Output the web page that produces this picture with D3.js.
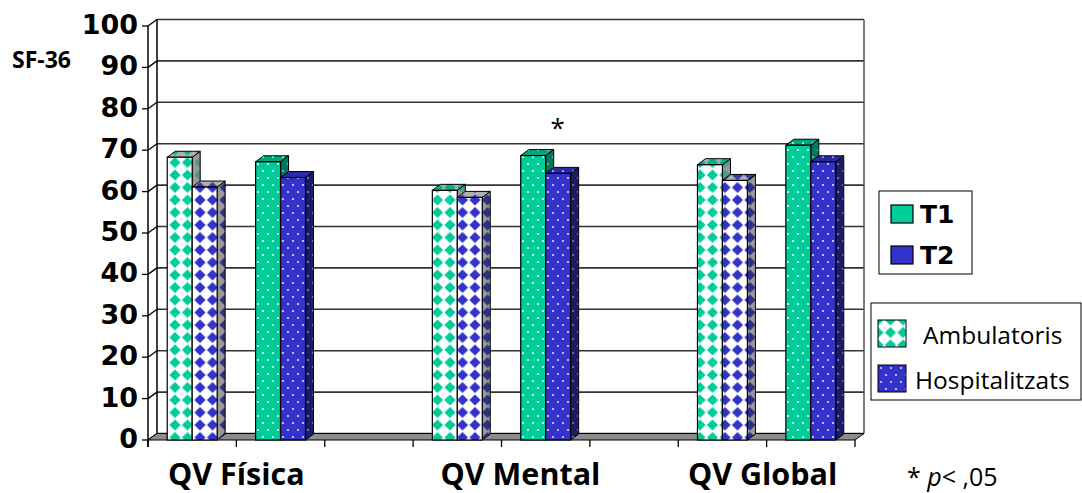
<!DOCTYPE html>
<html lang="ca">
<head>
<meta charset="UTF-8">
<title>SF-36 QV</title>
<script src="https://d3js.org/d3.v7.min.js"></script>
<style>
  body { margin: 0; background: #fff; }
  svg { display: block; }
</style>
</head>
<body>
<div id="chart"></div>
<script>
// dades llegides del gràfic
const groups = ["QV Física", "QV Mental", "QV Global"];
const ambT1 = [68.3, 60.3, 66.5];
const ambT2 = [61.1, 58.6, 62.7];
const hospT1 = [67.2, 68.7, 71.2];
const hospT2 = [63.4, 64.4, 67.2];
const yTicks = [0, 10, 20, 30, 40, 50, 60, 70, 80, 90, 100];
const timeNames = ["T1", "T2"];
const kindNames = ["Ambulatoris", "Hospitalitzats"];
const signif = ["", "*", ""];

var width = 1082, height = 493;
var dx = 8, dy = -6;          // bar depth
var wx = 9, wy = -6.5;        // wall depth

var svg = d3.select('#chart').append('svg')
    .attr('width', width)
    .attr('height', height);

// slots: Amb, Hosp, gap for each group
var slots = [];
groups.forEach(function(g, i) {
    slots.push(g + '|A', g + '|H');
    if (i < groups.length - 1) slots.push('gap' + i);
});

var x = d3.scaleBand().domain(slots).range([148, 855]);
var xs = d3.scaleBand().domain(timeNames).range([0, x.bandwidth()]).paddingInner(0).paddingOuter(0.77);
var y = d3.scaleLinear().domain([0, 100]).range([440, 26]);

// patterns
var defs = svg.append('defs');
function diamondPattern(id, bg, fg) {
    var s = 12.5, r = 5.6;
    var p = defs.append('pattern').attr('id', id)
        .attr('patternUnits', 'userSpaceOnUse').attr('width', s).attr('height', s);
    p.append('rect').attr('width', s).attr('height', s).attr('fill', bg);
    [[0, 0], [s, 0], [0, s], [s, s]].forEach(function(c) {
        p.append('path')
            .attr('d', 'M' + c[0] + ',' + (c[1] - r) + 'L' + (c[0] + r) + ',' + c[1] +
                'L' + c[0] + ',' + (c[1] + r) + 'L' + (c[0] - r) + ',' + c[1] + 'Z')
            .attr('fill', fg);
    });
}
function dotPattern(id, bg, dot) {
    var p = defs.append('pattern').attr('id', id)
        .attr('patternUnits', 'userSpaceOnUse').attr('width', 10).attr('height', 14);
    p.append('rect').attr('width', 10).attr('height', 14).attr('fill', bg);
    p.append('circle').attr('cx', 3).attr('cy', 3).attr('r', 1.1).attr('fill', dot);
    p.append('circle').attr('cx', 8).attr('cy', 10).attr('r', 1.1).attr('fill', dot);
}
diamondPattern('ambT1', '#ffffff', '#00cc99');
diamondPattern('ambT2', '#ffffff', '#3333cc');
diamondPattern('ambT1side', '#9a9a9a', '#4f9a86');
diamondPattern('ambT2side', '#9a9a9a', '#2f2f86');
diamondPattern('ambT1top', '#b0b0b0', '#00b386');
diamondPattern('ambT2top', '#b0b0b0', '#3a3aa8');
dotPattern('hospT1', '#00cc99', '#e8fff8');
dotPattern('hospT2', '#3333cc', '#dcdcff');
dotPattern('hospT1side', '#007a5c', '#7fb8a8');
dotPattern('hospT2side', '#1c1c66', '#8080b0');
dotPattern('hospT1top', '#00a67c', '#bfeee0');
dotPattern('hospT2top', '#2a2aa6', '#b8b8f0');

var gridColor = '#333';

// back wall frame and gridlines
var grid = svg.append('g');
grid.selectAll('.gl').data(yTicks).enter().append('line')
    .attr('x1', 148 + wx).attr('x2', 855 + wx)
    .attr('y1', d => y(d) + wy).attr('y2', d => y(d) + wy)
    .attr('stroke', gridColor).attr('stroke-width', 1.6);
grid.selectAll('.sl').data(yTicks).enter().append('line')
    .attr('x1', 148).attr('x2', 148 + wx)
    .attr('y1', d => y(d)).attr('y2', d => y(d) + wy)
    .attr('stroke', '#000').attr('stroke-width', 1.3);
grid.append('line').attr('x1', 148 + wx).attr('x2', 148 + wx)
    .attr('y1', y(100) + wy).attr('y2', y(0) + wy).attr('stroke', '#000').attr('stroke-width', 1.5);
grid.append('line').attr('x1', 855 + wx).attr('x2', 855 + wx)
    .attr('y1', y(100) + wy).attr('y2', y(0) + wy).attr('stroke', '#555').attr('stroke-width', 1.5);

// floor
svg.append('path')
    .attr('d', 'M148,' + y(0) + 'L855,' + y(0) + 'L' + (855 + wx) + ',' + (y(0) + wy) +
        'L' + (148 + wx) + ',' + (y(0) + wy) + 'Z')
    .attr('fill', '#8c8c8c').attr('stroke', '#000').attr('stroke-width', 1);

// front y axis
svg.append('line').attr('x1', 148).attr('x2', 148)
    .attr('y1', y(100)).attr('y2', y(0) + 7).attr('stroke', '#000').attr('stroke-width', 1.5);
svg.selectAll('.yt').data(yTicks).enter().append('line')
    .attr('x1', 142).attr('x2', 148)
    .attr('y1', d => y(d)).attr('y2', d => y(d))
    .attr('stroke', '#000').attr('stroke-width', 1.3);
svg.selectAll('.yl').data(yTicks).enter().append('text')
    .attr('x', 138).attr('y', d => y(d) + 8)
    .attr('text-anchor', 'end')
    .style('font-family', 'DejaVu Sans').style('font-weight', 'bold').style('font-size', '27px')
    .text(d => d);

// x ticks at slot boundaries
var bounds = slots.map(s => x(s)).concat([x.range()[1]]);
svg.selectAll('.xt').data(bounds).enter().append('line')
    .attr('x1', d => d).attr('x2', d => d)
    .attr('y1', y(0)).attr('y2', y(0) + 7)
    .attr('stroke', '#000').attr('stroke-width', 1.3);

// bars
var bars = [];
groups.forEach(function(g, i) {
    bars.push({ slot: g + '|A', t: 'T1', v: ambT1[i], pat: 'ambT1' });
    bars.push({ slot: g + '|A', t: 'T2', v: ambT2[i], pat: 'ambT2' });
    bars.push({ slot: g + '|H', t: 'T1', v: hospT1[i], pat: 'hospT1' });
    bars.push({ slot: g + '|H', t: 'T2', v: hospT2[i], pat: 'hospT2' });
});

var barG = svg.selectAll('.bar').data(bars).enter().append('g').attr('class', 'bar');
barG.each(function(d) {
    var g = d3.select(this);
    var x0 = x(d.slot) + xs(d.t), x1 = x0 + xs.bandwidth();
    var yt = y(d.v), yb = y(0);
    g.append('path')
        .attr('d', 'M' + x1 + ',' + yt + 'L' + (x1 + dx) + ',' + (yt + dy) + 'L' + (x1 + dx) + ',' + (yb + dy) + 'L' + x1 + ',' + yb + 'Z')
        .attr('fill', 'url(#' + d.pat + 'side)').attr('stroke', '#000').attr('stroke-width', 1);
    g.append('path')
        .attr('d', 'M' + x0 + ',' + yt + 'L' + (x0 + dx) + ',' + (yt + dy) + 'L' + (x1 + dx) + ',' + (yt + dy) + 'L' + x1 + ',' + yt + 'Z')
        .attr('fill', 'url(#' + d.pat + 'top)').attr('stroke', '#000').attr('stroke-width', 1);
    g.append('rect')
        .attr('x', x0).attr('y', yt).attr('width', x1 - x0).attr('height', yb - yt)
        .attr('fill', 'url(#' + d.pat + ')').attr('stroke', '#000').attr('stroke-width', 1.2);
});

// significance mark
svg.selectAll('.sig').data(groups).enter().append('text')
    .attr('x', g => x(g + '|H') + x.bandwidth() / 2 + 12)
    .attr('y', (g, i) => y(Math.max(hospT1[i], hospT2[i])) - 19)
    .attr('text-anchor', 'middle')
    .style('font-family', 'Open Sans').style('font-size', '26px')
    .text((g, i) => signif[i]);

// category labels
var labelNudge = [0, 19, -4];
svg.selectAll('.xl').data(groups).enter().append('text')
    .attr('x', (g, i) => x(g + '|H') + labelNudge[i])
    .attr('y', 485)
    .attr('text-anchor', 'middle')
    .style('font-family', 'Open Sans').style('font-weight', 'bold').style('font-size', '30.5px')
    .text(g => g);

// axis title
svg.append('text').attr('x', 12).attr('y', 68)
    .style('font-family', 'Open Sans').style('font-weight', 'bold').style('font-size', '23px')
    .text('SF-36');

// p note
var note = svg.append('text').attr('x', 907).attr('y', 486)
    .style('font-family', 'Open Sans').style('font-size', '25px');
note.append('tspan').text('* ');
note.append('tspan').style('font-style', 'italic').text('p');
note.append('tspan').text('< ,05');

// legend: times
var leg1 = svg.append('g').attr('transform', 'translate(879,191)');
leg1.append('rect').attr('width', 93).attr('height', 83)
    .attr('fill', '#fff').attr('stroke', '#000').attr('stroke-width', 1);
var l1 = leg1.selectAll('.l1').data(timeNames).enter().append('g')
    .attr('transform', (d, i) => 'translate(12,' + (14 + i * 41) + ')');
l1.append('rect').attr('width', 22).attr('height', 18)
    .attr('fill', (d, i) => i === 0 ? '#00cc99' : '#3333cc')
    .attr('stroke', '#000').attr('stroke-width', 1.2);
l1.append('text').attr('x', 29).attr('y', 18)
    .style('font-family', 'DejaVu Sans').style('font-weight', 'bold').style('font-size', '25px')
    .text(d => d);

// legend: patient groups
var leg2 = svg.append('g').attr('transform', 'translate(871,303)');
leg2.append('rect').attr('width', 210).attr('height', 97)
    .attr('fill', '#fff').attr('stroke', '#000').attr('stroke-width', 1);
var l2 = leg2.selectAll('.l2').data(kindNames).enter().append('g')
    .attr('transform', (d, i) => 'translate(7,' + (17 + i * 45) + ')');
l2.append('rect').attr('width', 28).attr('height', 27)
    .attr('fill', (d, i) => i === 0 ? 'url(#ambT1)' : 'url(#hospT2)')
    .attr('stroke', '#000').attr('stroke-width', 1);
l2.append('text').attr('x', (d, i) => i === 0 ? 45 : 37).attr('y', 15)
    .attr('dy', '0.35em')
    .style('font-family', 'Open Sans').style('font-size', '24.5px')
    .text(d => d);
</script>
</body>
</html>
